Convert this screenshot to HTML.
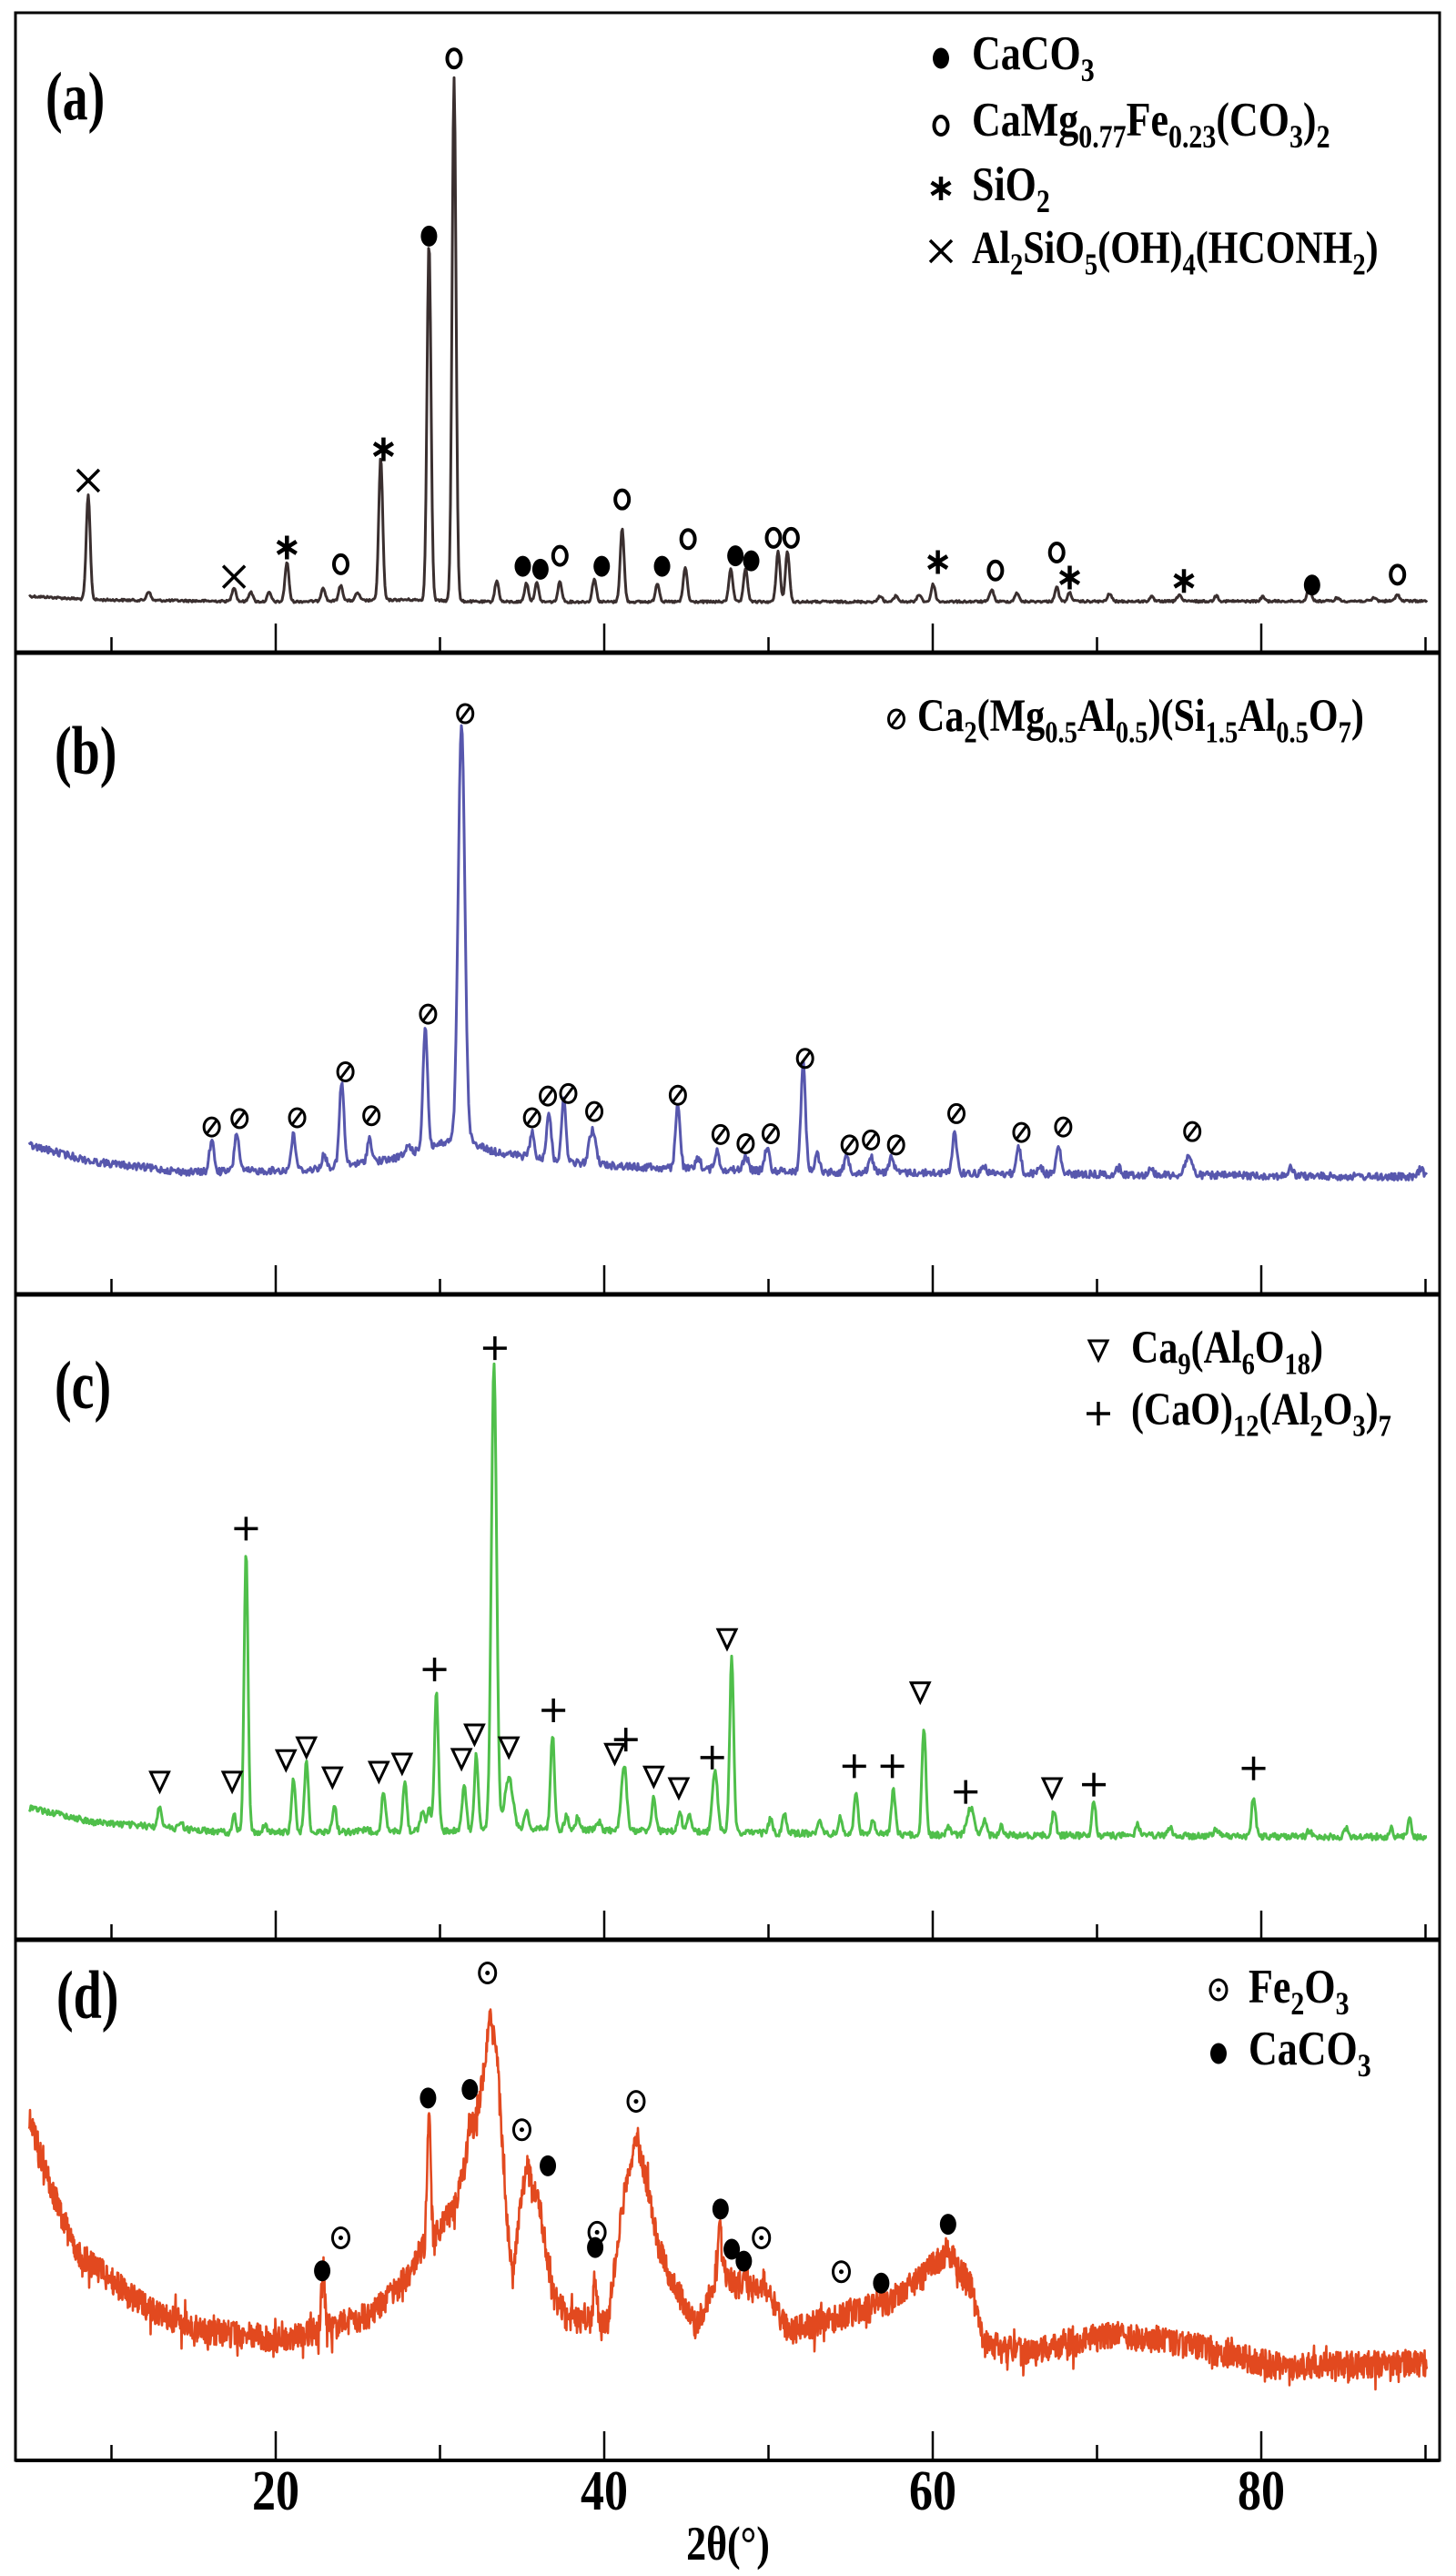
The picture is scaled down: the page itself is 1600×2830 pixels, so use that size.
<!DOCTYPE html>
<html><head><meta charset="utf-8">
<style>html,body{margin:0;padding:0;background:#fff;}svg{display:block;}</style>
</head><body>
<svg id="s" xmlns="http://www.w3.org/2000/svg" width="1600" height="2830" viewBox="0 0 1600 2830" font-family="'Liberation Serif', serif" font-weight="bold"></svg>
<script>
const S=document.getElementById('s');const NS='http://www.w3.org/2000/svg';
function el(t,a,p){const e=document.createElementNS(NS,t);for(const k in a)e.setAttribute(k,a[k]);(p||S).appendChild(e);return e;}
let seed=12345;function r(){seed=(seed*1103515245+12345)%2147483648;return seed/2147483648;}
function interp(pts,x){if(x<=pts[0][0])return pts[0][1];for(let i=1;i<pts.length;i++){if(x<=pts[i][0]){const a=pts[i-1],b=pts[i];return a[1]+(b[1]-a[1])*(x-a[0])/(b[0]-a[0]);}}return pts[pts.length-1][1];}
function spec(P){let d='';const step=P.step||1;for(let X=32;X<=1568;X+=step){const zx=X*0.98;const b=interp(P.base,zx);let y=b;for(const p of P.peaks){const w=p[2]||P.w;const dx=(zx-p[0])/w;if(Math.abs(dx)>6)continue;const h=interp(P.base,p[0])-p[1];y-=h*Math.exp(-dx*dx);}
let Y=P.y0+y/P.s+P.noise*(r()-0.5)*2;if(P.spike&&r()<0.12)Y+=P.spike*(r()-0.5)*2;d+=(X==32?'M':'L')+X.toFixed(1)+' '+Y.toFixed(1);}
el('path',{d:d,fill:'none',stroke:P.color,'stroke-width':P.sw,'stroke-linejoin':'round'});}
function mk(type,zx,zy,P){const x=zx/0.98,y=P.y0+zy/P.s;const st={stroke:'#000','stroke-width':3,fill:'none'};
if(type=='dot')el('ellipse',{cx:x,cy:y,rx:9,ry:11.5,fill:'#000'});
else if(type=='o')el('ellipse',Object.assign({cx:x,cy:y,rx:7.5,ry:10},st,{'stroke-width':4}));
else if(type=='x'){el('path',Object.assign({d:`M${x-12} ${y-12}L${x+12} ${y+12}M${x+12} ${y-12}L${x-12} ${y+12}`},st,{'stroke-width':3.5}));}
else if(type=='star'){let d='';for(let k=0;k<3;k++){const a=Math.PI/2+k*Math.PI/3;const cx=Math.cos(a)*12,cy=Math.sin(a)*13;d+=`M${x-cx} ${y-cy}L${x+cx} ${y+cy}`;}el('path',Object.assign({d:d},st,{'stroke-width':4.5}));}
else if(type=='slash'){el('ellipse',Object.assign({cx:x,cy:y,rx:8.5,ry:10},st,{'stroke-width':3}));el('path',Object.assign({d:`M${x-6} ${y+8}L${x+6} ${y-8}`},st,{'stroke-width':3}));}
else if(type=='tri'){el('path',Object.assign({d:`M${x-10} ${y-10}L${x+10} ${y-10}L${x} ${y+11}Z`},st,{'stroke-width':3}));}
else if(type=='plus'){el('path',Object.assign({d:`M${x-13} ${y}L${x+13} ${y}M${x} ${y-13}L${x} ${y+13}`},st,{'stroke-width':3.5}));}
else if(type=='odot'){el('ellipse',Object.assign({cx:x,cy:y,rx:9,ry:11},st,{'stroke-width':3}));el('circle',{cx:x,cy:y,r:2.5,fill:'#000'});}}
function formula(x,y,str,fs){const t=el('text',{x:0,y:0,'font-size':fs,transform:`translate(${x},${y}) scale(1,1.2)`});const re=/_([0-9.]+)|([^_]+?)(?=_|$)/g;let m;let down=false;
while((m=re.exec(str))!==null){if(m[1]){const s=el('tspan',{dy:down?0:fs*0.25,'font-size':fs*0.68},t);s.textContent=m[1];down=true;}else if(m[2]){const s=el('tspan',{dy:down?-fs*0.25:0},t);s.textContent=m[2];down=false;}}return t;}
function txt(x,y,s,fs,anchor,sy){const t=el('text',{x:0,y:0,'font-size':fs,'text-anchor':anchor||'start',transform:`translate(${x},${y}) scale(1,${sy||1.2})`});t.textContent=s;return t;}

const bot=2703;
el('rect',{x:17,y:14,width:1565,height:bot-14,fill:'none',stroke:'#000','stroke-width':3});
[717,1422,2131].forEach(y=>el('line',{x1:17,x2:1582,y1:y,y2:y,stroke:'#000','stroke-width':5}));
el('line',{x1:17,x2:1582,y1:bot,y2:bot,stroke:'#000','stroke-width':4});
[717,1422,2131,2703].forEach(yb=>{for(let t=10;t<=90;t+=10){const X=-58+18.05*t;const L=(t%20==0&&t<90)?32:17;el('line',{x1:X,x2:X,y1:yb,y2:yb-L,stroke:'#000','stroke-width':2.5});}});

const A={y0:0,s:2.178,w:3,noise:1.2,color:'#3a2f2f',sw:3,base:[[20,1425],[100,1435],[300,1440],[440,1435],[520,1440],[900,1440],[1540,1438]],
peaks:[[95,1185],[160,1415],[252,1405],[270,1415],[290,1418],[309,1345],[348,1405],[367,1400],[385,1418],[410,1095],[462,575],[489,185],[535,1390],[567,1395],[578,1395],[603,1392],[640,1385],[670,1265],[708,1395],[738,1357],[787,1360],[803,1360],[838,1318],[848,1318],[948,1425],[965,1425],[990,1422],[1005,1398],[1068,1410],[1095,1418],[1138,1405],[1152,1418],[1195,1420],[1240,1428],[1270,1422],[1310,1425],[1360,1428],[1410,1398],[1440,1430],[1480,1430],[1505,1422]]};
spec(A);
[['x',95,1150],['x',252,1380],['star',309,1310],['o',367,1350],['star',413,1075],['dot',462,565],['o',489,140],['dot',563,1355],['dot',582,1362],['o',603,1330],['dot',648,1355],['o',670,1195],['dot',713,1355],['o',741,1290],['dot',792,1330],['dot',809,1342],['o',833,1287],['o',852,1287],['star',1010,1345],['o',1072,1365],['o',1138,1322],['star',1152,1382],['star',1275,1390],['dot',1413,1400],['o',1505,1375]].forEach(m=>mk(m[0],m[1],m[2],A));
txt(50,131,'(a)',56,'start',1.35);
const L0={y0:0,s:1};
mk('dot',1034*0.98,64,L0);formula(1068,76,'CaCO_3',44);
mk('o',1034*0.98,138,L0);formula(1068,149,'CaMg_0.77Fe_0.23(CO_3)_2',44);
mk('star',1034*0.98,207,L0);formula(1068,220,'SiO_2',44);
mk('x',1034*0.98,276,L0);formula(1068,289,'Al_2SiO_5(OH)_4(HCONH_2)',42);

const B={y0:700,s:2.178,w:3.5,noise:4,color:'#5757ad',sw:3,base:[[30,1215],[100,1255],[200,1280],[330,1275],[420,1250],[470,1215],[500,1200],[530,1230],[600,1255],[700,1270],[900,1280],[1540,1292]],
peaks:[[228,1205],[255,1185],[316,1192],[349,1240],[368,1065],[398,1200],[440,1215],[458,932],[497,205,5],[573,1187],[591,1135],[607,1108],[638,1180,5],[700,1265],[730,1115],[752,1245],[772,1230],[803,1240],[826,1220],[865,1020],[880,1235],[912,1240],[938,1240],[960,1240],[1028,1185],[1060,1265],[1097,1220],[1120,1265],[1140,1220],[1205,1270],[1240,1272],[1280,1240,5],[1390,1270],[1530,1272]]};
spec(B);
[[228,1172],[258,1152],[320,1150],[372,1040],[400,1145],[461,902],[501,183],[573,1150],[590,1098],[612,1092],[640,1135],[730,1096],[776,1190],[803,1212],[830,1188],[867,1008],[915,1215],[938,1203],[965,1215],[1030,1140],[1100,1185],[1145,1172],[1284,1183]].forEach(m=>mk('slash',m[0],m[1],B));
txt(60,850,'(b)',56,'start',1.35);
mk('slash',985*0.98,790,L0);formula(1008,803,'Ca_2(Mg_0.5Al_0.5)(Si_1.5Al_0.5O_7)',42);

const C={y0:1400,s:2.119,w:3,noise:3.5,color:'#4fbf4a',sw:3,base:[[30,1240],[100,1275],[250,1300],[500,1295],[560,1290],[800,1300],[1000,1305],[1540,1310]],
peaks:[[172,1235],[195,1275],[252,1260],[265,650],[285,1280],[316,1178],[330,1135],[360,1235],[395,1290],[413,1205],[436,1185],[455,1250],[462,1240],[470,975],[500,1185],[513,1118],[532,210,4],[548,1170,6],[567,1245],[595,1070],[610,1260],[622,1265],[645,1275],[672,1140,4],[704,1215],[732,1250],[742,1255],[770,1160,4],[788,890],[830,1265],[845,1255],[882,1270],[905,1265],[922,1205],[940,1265],[962,1200],[995,1055],[1022,1285],[1045,1240,5],[1060,1270],[1078,1285],[1135,1248],[1178,1230],[1225,1280],[1260,1285],[1310,1290],[1350,1215],[1410,1295],[1450,1292],[1498,1290],[1518,1270]]};
spec(C);
[[172,1180],[250,1180],[308,1130],[330,1100],[358,1170],[408,1157],[433,1138],[497,1127],[511,1070],[548,1100],[662,1115],[704,1168],[731,1195],[783,848],[991,972],[1133,1195]].forEach(m=>mk('tri',m[0],m[1],C));
[[265,592],[468,920],[533,172],[596,1015],[674,1083],[767,1125],[920,1145],[961,1145],[1040,1205],[1178,1188],[1350,1150]].forEach(m=>mk('plus',m[0],m[1],C));
txt(60,1547,'(c)',56,'start',1.35);
mk('tri',1207*0.98,1483,L0);formula(1243,1497,'Ca_9(Al_6O_18)',42);
mk('plus',1207*0.98,1553,L0);formula(1243,1565,'(CaO)_12(Al_2O_3)_7',42);

const D={y0:2100,s:2.148,w:4,noise:15,spike:16,step:0.5,color:'#e2491f',sw:2.6,base:[[32,495],[50,620],[80,800],[120,870],[160,940],[220,990],[300,1010],[360,980],[400,950],[440,860],[452,800],[470,760],[490,700],[505,560],[515,470],[522,360],[528,250],[536,360],[545,700],[552,870],[560,700],[567,600],[580,680],[595,900],[610,960],[645,970],[655,960],[670,700],[685,520],[695,620],[710,800],[730,900],[750,980],[765,900],[775,840],[790,880],[823,890],[850,990],[900,960],[950,930],[990,870],[1020,800],[1045,880],[1060,1020],[1100,1040],[1200,1000],[1250,1010],[1330,1050],[1380,1075],[1540,1065]],
peaks:[[462,455,2.5],[506,500,3],[348,860,2.5],[641,860,2.5],[775,730,2.5],[801,860,2.5],[823,870,2.5],[947,900,2.5]]};
spec(D);
[[525,145],[367,770],[562,515],[685,448],[643,757],[820,770],[906,850]].forEach(m=>mk('odot',m[0],m[1],D));
[[347,848],[461,440],[506,420],[590,600],[641,793],[776,702],[788,797],[801,825],[949,877],[1021,738]].forEach(m=>mk('dot',m[0],m[1],D));
txt(62,2217,'(d)',56,'start',1.35);
mk('odot',1339*0.98,2186,L0);formula(1372,2200,'Fe_2O_3',44);
mk('dot',1339*0.98,2256,L0);formula(1372,2268,'CaCO_3',44);

[[20,303],[40,664],[60,1025],[80,1386]].forEach(t=>txt(t[1],2757,String(t[0]),52,'middle',1.2));
txt(800,2812,'2θ(°)',44,'middle',1.2);
</script>
</body></html>
